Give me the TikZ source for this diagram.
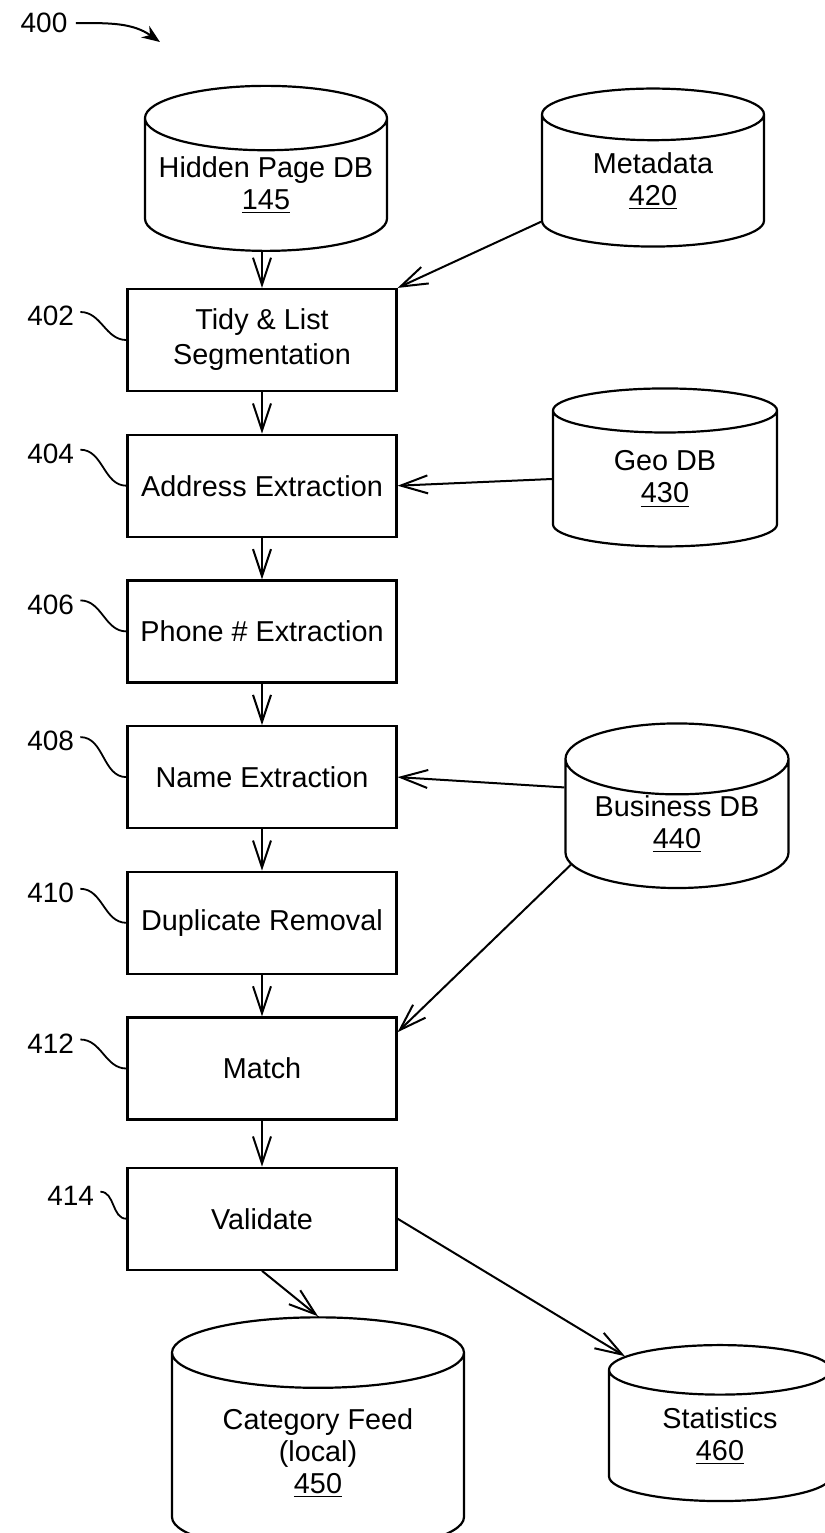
\documentclass[tikz,border=0pt]{standalone}
\usepackage{fontspec}
\setmainfont{Liberation Sans}
\usetikzlibrary{arrows.meta,positioning,shapes.geometric}

\begin{document}
\begin{tikzpicture}[x=0.5pt,y=-0.5pt,node distance=20.75pt,
  stage/.style={draw,line width=1.1pt,minimum width=134.5pt,minimum height=51pt,inner sep=0pt,align=center,font=\fontsize{14.4}{17.5}\selectfont},
  db/.style={cylinder,shape border rotate=90,draw,line width=1.1pt,aspect=0.43,inner sep=0pt,align=center,font=\fontsize{14.4}{16}\selectfont},
  arr/.style={-{Straight Barb[length=13.5pt,width=9pt]},line width=1pt},
  tag/.style={inner sep=0pt,font=\fontsize{14}{16}\selectfont},
  lead/.style={line width=0.9pt}]
\useasboundingbox (0,0) rectangle (825,1533);

% processing column
\node[stage] (tidy) at (262,340) {Tidy \& List\\Segmentation};
\node[stage,below=of tidy] (addr) {Address Extraction};
\node[stage,below=of addr] (phone) {Phone \# Extraction};
\node[stage,below=of phone] (name) {Name Extraction};
\node[stage,below=of name] (dup) {Duplicate Removal};
\node[stage,below=of dup] (match) {Match};
\node[stage,below=23pt of match] (valid) {Validate};

% data stores
\node[db,minimum width=121pt,minimum height=82.5pt,aspect=0.3] (hidden) at (266,185) {Hidden Page DB\\\underline{145}};
\node[db,minimum width=111pt,minimum height=79pt] (meta) at (653,181) {Metadata\\\underline{420}};
\node[db,minimum width=112pt,minimum height=79pt] (geo) at (665,479) {Geo DB\\\underline{430}};
\node[db,minimum width=111.5pt,minimum height=78.5pt] (bus) at (677,824) {Business DB\\\underline{440}};
\node[db,minimum width=146pt,minimum height=117.5pt,aspect=0.37] (cat) at (318,1453) {Category Feed\\(local)\\\underline{450}};
\node[db,minimum width=111pt,minimum height=78pt] (stats) at (720,1436) {Statistics\\\underline{460}};

% reference numerals
\node[tag] (fig) at (44,23) {400};
\coordinate (figtip) at (160,42);
\draw[line width=1pt,-{Stealth[length=9pt,width=7pt]}] ([xshift=4pt]fig.east) to[out=0,in=145] (figtip);
\foreach \stg/\num/\dy in {tidy/402/12,addr/404/16,phone/406/13.5,name/408/18,dup/410/15,match/412/12.5}{
  \node[tag,left=26pt of \stg.west,yshift=\dy pt] (t\num) {\num};
  \draw[lead] ([xshift=3pt,yshift=2pt]t\num.east) to[out=0,in=180] (\stg.west);
}
\node[tag,left=16pt of valid.west,yshift=11.5pt] (t414) {414};
\draw[lead] ([xshift=3pt,yshift=2pt]t414.east) to[out=0,in=180] (valid.west);

% flow
\draw[arr] (hidden.south -| tidy.north) -- (tidy.north);
\draw[arr] (meta.200) -- (tidy.north east);
\foreach \a/\b in {tidy/addr,addr/phone,phone/name,name/dup,dup/match,match/valid}
  \draw[arr] (\a) -- (\b);
\draw[arr] (geo.west) -- (addr.east);
\draw[arr] (bus.162) -- (name.east);
\draw[arr] (bus.201) -- (match.15);
\draw[arr] (valid.south) -- (cat.north);
\draw[arr] (valid.east) -- (stats.140);
\end{tikzpicture}
\end{document}
